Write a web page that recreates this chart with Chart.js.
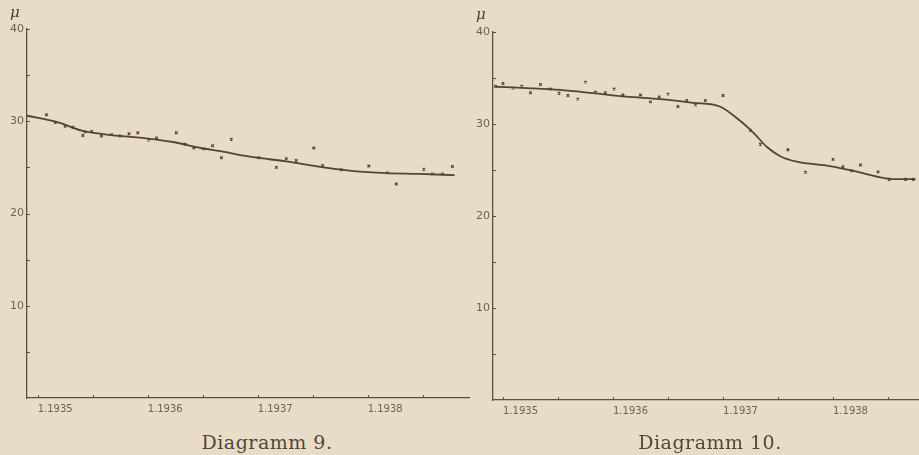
<!DOCTYPE html>
<html>
<head>
<meta charset="utf-8">
<script src="https://cdn.jsdelivr.net/npm/chart.js@4"></script>
<style>
  body { margin: 0; background: #e6dcc8; width: 919px; height: 455px; overflow: hidden; position: relative; }
  canvas { position: absolute; top: 0; }
  #c9 { left: 0; }
  #c10 { left: 460px; }
  .mu { position: absolute; font-family: 'DejaVu Serif', serif; font-style: italic; font-size: 15px; color: #4a3b30; }
  .caption { position: absolute; top: 431px; font-family: 'DejaVu Serif', serif; font-size: 19px; letter-spacing: 0.5px; color: #54453a; transform: translateX(-50%); white-space: nowrap; }
</style>
</head>
<body>
<canvas id="c9" width="470" height="430"></canvas>
<canvas id="c10" width="459" height="430"></canvas>
<div class="mu" style="left:10px; top:3px;">μ</div>
<div class="mu" style="left:476px; top:5px;">μ</div>
<div class="caption" style="left:267px;">Diagramm 9.</div>
<div class="caption" style="left:710px;">Diagramm 10.</div>
<script>
// time axis in years (1.1935 = January 1935)
const xTicks = [1935, 1935.5, 1936, 1936.5, 1937, 1937.5, 1938, 1938.5];
const yTicks = [5, 10, 15, 20, 25, 30, 35, 40];
const yLabels = [10, 20, 30, 40];

// Diagramm 9
const curve9X = [1934.90, 1935.18, 1935.41, 1935.67, 1936.02, 1936.23, 1936.48, 1936.66, 1936.96, 1937.26, 1937.60, 1937.87, 1938.17, 1938.47, 1938.79];
const curve9Y = [30.6, 29.9, 28.95, 28.5, 28.1, 27.75, 27.1, 26.75, 26.1, 25.65, 25.0, 24.6, 24.38, 24.3, 24.15];
const obs9X = [1935.08, 1935.16, 1935.25, 1935.32, 1935.41, 1935.43, 1935.49, 1935.58, 1935.67, 1935.75, 1935.83, 1935.91, 1936.01, 1936.08, 1936.26, 1936.34, 1936.42, 1936.51, 1936.59, 1936.67, 1936.76, 1937.01, 1937.17, 1937.26, 1937.35, 1937.51, 1937.59, 1937.76, 1938.01, 1938.18, 1938.26, 1938.51, 1938.59, 1938.68, 1938.77];
const obs9Y = [30.7, 29.85, 29.45, 29.35, 28.45, 28.85, 28.9, 28.4, 28.55, 28.4, 28.65, 28.75, 27.95, 28.2, 28.75, 27.5, 27.1, 27.0, 27.35, 26.05, 28.05, 26.05, 25.0, 25.95, 25.75, 27.1, 25.2, 24.75, 25.15, 24.4, 23.2, 24.8, 24.3, 24.3, 25.1];

// Diagramm 10
const curve10X = [1934.93, 1935.22, 1935.52, 1935.82, 1936.12, 1936.43, 1936.73, 1936.97, 1937.15, 1937.28, 1937.40, 1937.52, 1937.67, 1937.97, 1938.18, 1938.43, 1938.55, 1938.75];
const curve10Y = [34.05, 33.9, 33.7, 33.35, 32.97, 32.7, 32.3, 31.9, 30.4, 29.0, 27.5, 26.5, 25.9, 25.43, 24.93, 24.2, 24.0, 24.0];
const obs10X = [1934.93, 1935.0, 1935.09, 1935.17, 1935.25, 1935.34, 1935.43, 1935.51, 1935.59, 1935.68, 1935.75, 1935.84, 1935.93, 1936.01, 1936.09, 1936.25, 1936.34, 1936.42, 1936.50, 1936.59, 1936.67, 1936.75, 1936.84, 1937.00, 1937.25, 1937.34, 1937.59, 1937.75, 1938.00, 1938.09, 1938.17, 1938.25, 1938.41, 1938.51, 1938.66, 1938.73];
const obs10Y = [34.1, 34.4, 33.9, 34.1, 33.4, 34.3, 33.8, 33.35, 33.1, 32.7, 34.55, 33.45, 33.4, 33.8, 33.15, 33.15, 32.4, 32.95, 33.25, 31.9, 32.55, 32.05, 32.55, 33.1, 29.3, 27.8, 27.2, 24.75, 26.15, 25.35, 24.9, 25.55, 24.8, 24.0, 24.0, 24.0];

const ink = '#574234';
const axisColor = '#5e4e42';
const labelColor = '#6e6258';

const pairs = (xs, ys) => xs.map((x, i) => ({ x: x, y: ys[i] }));

// tick marks point into the plot, as in the printed figure
const innerTicks = {
    id: 'innerTicks',
    afterDraw(chart) {
        const { ctx, chartArea, scales } = chart;
        ctx.save();
        ctx.strokeStyle = axisColor;
        ctx.lineWidth = 1;
        scales.y.ticks.forEach(t => {
            const py = Math.round(scales.y.getPixelForValue(t.value)) + 0.5;
            ctx.beginPath();
            ctx.moveTo(chartArea.left, py);
            ctx.lineTo(chartArea.left + 3, py);
            ctx.stroke();
        });
        scales.x.ticks.forEach(t => {
            const px = Math.round(scales.x.getPixelForValue(t.value)) + 0.5;
            ctx.beginPath();
            ctx.moveTo(px, chartArea.bottom);
            ctx.lineTo(px, chartArea.bottom - 3);
            ctx.stroke();
        });
        ctx.restore();
    }
};

function makeChart(id, curveX, curveY, obsX, obsY, cfg) {
    return new Chart(document.getElementById(id), {
        type: 'scatter',
        data: {
            datasets: [
                {
                    type: 'line',
                    data: pairs(curveX, curveY),
                    borderColor: ink,
                    borderWidth: 1.8,
                    pointRadius: 0,
                    cubicInterpolationMode: 'monotone',
                    fill: false
                },
                {
                    data: pairs(obsX, obsY),
                    pointStyle: 'crossRot',
                    pointRadius: 1.8,
                    borderWidth: 1.2,
                    borderColor: ink,
                    backgroundColor: ink
                }
            ]
        },
        options: {
            responsive: false,
            animation: false,
            devicePixelRatio: 1,
            layout: { autoPadding: false, padding: { top: cfg.padTop, left: 0, right: 0, bottom: 0 } },
            plugins: { legend: { display: false }, tooltip: { enabled: false } },
            scales: {
                x: {
                    type: 'linear',
                    min: cfg.xMin,
                    max: cfg.xMax,
                    afterBuildTicks: s => { s.ticks = xTicks.map(v => ({ value: v })); },
                    afterFit: s => { s.height = cfg.xHeight; s.paddingLeft = 0; s.paddingRight = 0; },
                    grid: { display: false, drawTicks: false },
                    border: { color: axisColor, width: 1.3 },
                    ticks: {
                        autoSkip: false,
                        maxRotation: 0,
                        align: 'start',
                        padding: 5,
                        color: labelColor,
                        font: { family: 'DejaVu Sans', size: 10 },
                        callback: v => Number.isInteger(v) ? '1.' + v : ''
                    }
                },
                y: {
                    min: 0,
                    max: 40,
                    afterBuildTicks: s => { s.ticks = yTicks.map(v => ({ value: v })); },
                    afterFit: s => { s.width = cfg.yWidth; s.paddingTop = 0; s.paddingBottom = 0; },
                    grid: { display: false, drawTicks: false },
                    border: { color: axisColor, width: 1.3 },
                    ticks: {
                        autoSkip: false,
                        padding: 3,
                        color: labelColor,
                        font: { family: 'DejaVu Sans', size: 11 },
                        callback: v => yLabels.includes(v) ? String(v) : ''
                    }
                }
            }
        },
        plugins: [innerTicks]
    });
}

makeChart('c9', curve9X, curve9Y, obs9X, obs9Y, { xMin: 1934.903, xMax: 1938.93, yWidth: 27, xHeight: 32, padTop: 29 });
makeChart('c10', curve10X, curve10Y, obs10X, obs10Y, { xMin: 1934.909, xMax: 1938.782, yWidth: 33, xHeight: 30, padTop: 32 });
</script>
</body>
</html>
